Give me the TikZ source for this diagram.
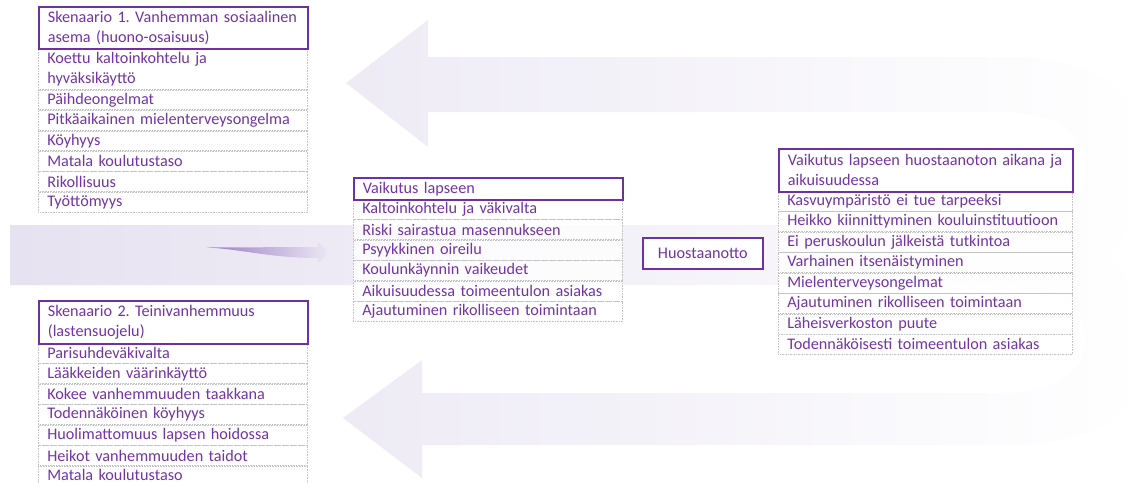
\documentclass[tikz,border=0pt]{standalone}
\usepackage{fontspec}
\setmainfont{Carlito}
\usetikzlibrary{fadings}
\definecolor{pur}{HTML}{7030A0}
\definecolor{txt}{HTML}{7434A4}
\definecolor{grid}{HTML}{C4C4C4}
\definecolor{lavA}{HTML}{E6E2F1}
\definecolor{lavB}{HTML}{FFFFFF}
\definecolor{arr}{HTML}{9B7CC6}
\tikzset{
  cell/.style={draw=grid, densely dotted, line width=0.6pt, fill=white, fill opacity=0.8,
    text opacity=1, text=txt, anchor=north west, inner xsep=9pt, inner ysep=0pt,
    align=left, text width=#1, minimum height=19.85pt,
    font=\fontsize{16.2}{20}\selectfont},
  hd/.style={cell=#1, draw=pur, solid, line width=1.7pt, fill opacity=1},
  bg/.style={left color=lavA, right color=lavB},
}
\begin{document}
\frenchspacing
\begin{tikzpicture}[x=1pt,y=-1pt]
\useasboundingbox (0,0) rectangle (1148,482);
% background B-shaped arrows
\shade[bg] (346,83) -- (428,20) -- (428,57) -- (1010,57)
  .. controls (1100,57) and (1146,100) .. (1146,150)
  .. controls (1146,205) and (1125,240) .. (1108,255)
  .. controls (1125,270) and (1146,300) .. (1146,350)
  .. controls (1146,410) and (1100,445) .. (1010,445)
  -- (422,445) -- (422,478) -- (343,418) -- (422,360) -- (422,393) -- (1000,393)
  .. controls (1060,393) and (1085,370) .. (1085,339)
  .. controls (1085,305) and (1060,285) .. (1000,285)
  -- (10,285) -- (10,225) -- (1000,225)
  .. controls (1060,225) and (1085,200) .. (1085,168)
  .. controls (1085,135) and (1060,112) .. (1000,112)
  -- (428,112) -- (428,147) -- cycle;
% small arrow
\fill[arr, path fading=east] (207,247.5) -- (318,247) -- (318,242) -- (330,252.5)
  -- (318,263) -- (318,258) .. controls (270,258) and (240,249) .. (207,247.5) -- cycle;

% Box 1
\node[cell=251pt, minimum height=41pt] (a1) at (38,48) {Koettu kaltoinkohtelu ja\\hyväksikäyttö};
\node[cell=251pt] (a2) at (a1.south west) {Päihdeongelmat};
\node[cell=251pt] (a3) at (a2.south west) {Pitkäaikainen mielenterveysongelma};
\node[cell=251pt] (a4) at (a3.south west) {Köyhyys};
\node[cell=251pt] (a5) at (a4.south west) {Matala koulutustaso};
\node[cell=251pt] (a6) at (a5.south west) {Rikollisuus};
\node[cell=251pt] (a7) at (a6.south west) {Työttömyys};
\node[hd=251pt, minimum height=42pt] (ah) at (38,6) {Skenaario 1. Vanhemman sosiaalinen\\asema (huono-osaisuus)};

% Box 2
\node[cell=251pt] (b1) at (38,343) {Parisuhdeväkivalta};
\node[cell=251pt] (b2) at (b1.south west) {Lääkkeiden väärinkäyttö};
\node[cell=251pt] (b3) at (b2.south west) {Kokee vanhemmuuden taakkana};
\node[cell=251pt] (b4) at (b3.south west) {Todennäköinen köyhyys};
\node[cell=251pt] (b5) at (b4.south west) {Huolimattomuus lapsen hoidossa};
\node[cell=251pt] (b6) at (b5.south west) {Heikot vanhemmuuden taidot};
\node[cell=251pt, minimum height=17.5pt] (b7) at (b6.south west) {Matala koulutustaso};
\node[hd=251pt, minimum height=43pt] (bh) at (38,300) {Skenaario 2. Teinivanhemmuus\\(lastensuojelu)};

% Middle box
\node[cell=251pt] (c1) at (353,199) {Kaltoinkohtelu ja väkivalta};
\node[cell=251pt] (c2) at (c1.south west) {Riski sairastua masennukseen};
\node[cell=251pt] (c3) at (c2.south west) {Psyykkinen oireilu};
\node[cell=251pt] (c4) at (c3.south west) {Koulunkäynnin vaikeudet};
\node[cell=251pt] (c5) at (c4.south west) {Aikuisuudessa toimeentulon asiakas};
\node[cell=251pt] (c6) at (c5.south west) {Ajautuminen rikolliseen toimintaan};
\node[hd=251pt, minimum height=22pt] (ch) at (353,177) {Vaikutus lapseen};

% Huostaanotto
\node[hd=102pt, align=center, minimum height=31pt] (h) at (642,237) {Huostaanotto};

% Right box
\node[cell=276pt] (d1) at (778,191) {Kasvuympäristö ei tue tarpeeksi};
\node[cell=276pt] (d2) at (d1.south west) {Heikko kiinnittyminen kouluinstituutioon};
\node[cell=276pt] (d3) at (d2.south west) {Ei peruskoulun jälkeistä tutkintoa};
\node[cell=276pt] (d4) at (d3.south west) {Varhainen itsenäistyminen};
\node[cell=276pt] (d5) at (d4.south west) {Mielenterveysongelmat};
\node[cell=276pt] (d6) at (d5.south west) {Ajautuminen rikolliseen toimintaan};
\node[cell=276pt] (d7) at (d6.south west) {Läheisverkoston puute};
\node[cell=276pt] (d8) at (d7.south west) {Todennäköisesti toimeentulon asiakas};
\node[hd=276pt, minimum height=43pt] (dh) at (778,148) {Vaikutus lapseen huostaanoton aikana ja\\aikuisuudessa};
\end{tikzpicture}
\end{document}
